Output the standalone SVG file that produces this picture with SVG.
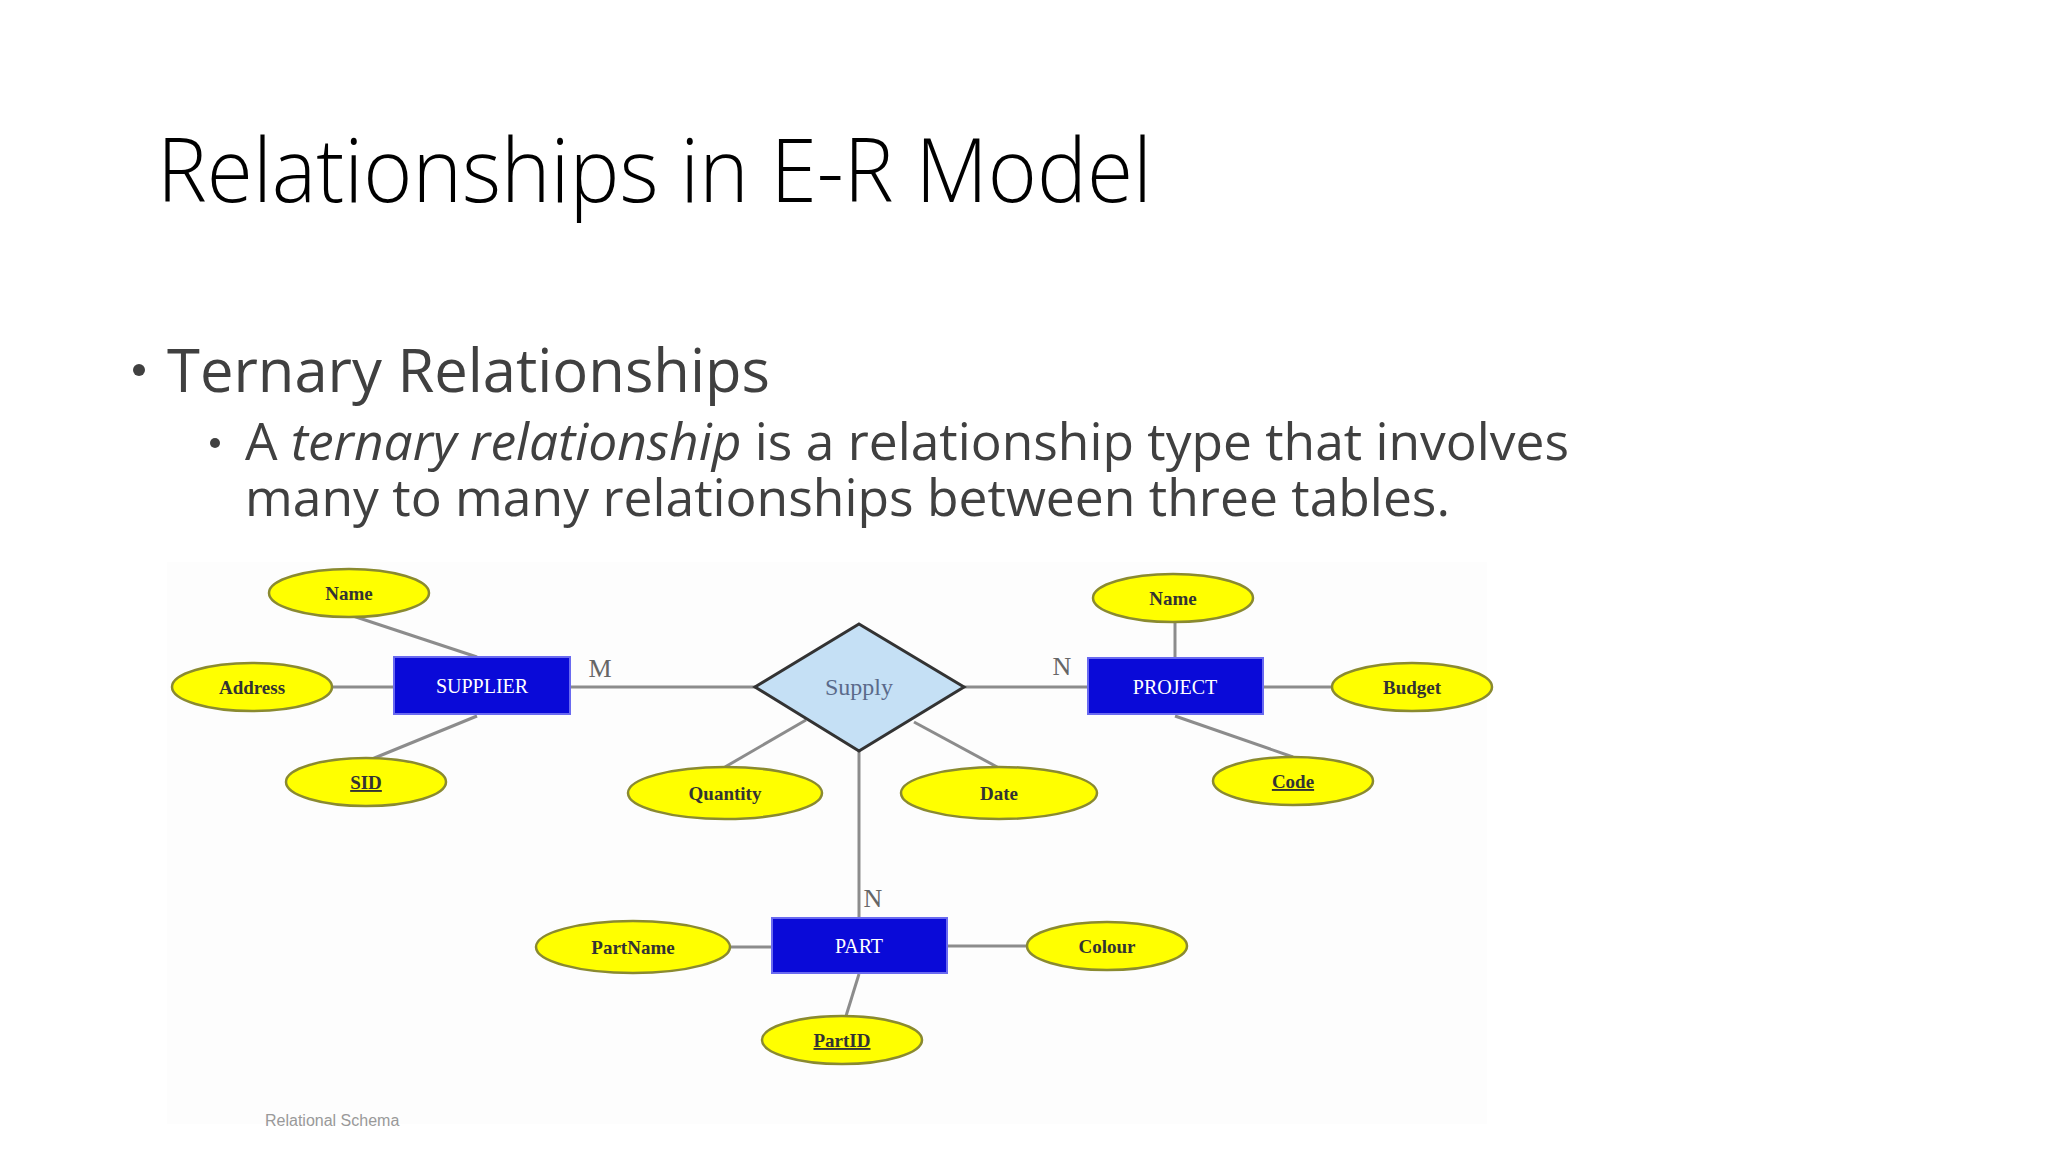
<svg xmlns="http://www.w3.org/2000/svg" width="2048" height="1152" viewBox="0 0 2048 1152">
<style>
.ttl{font-family:"Open Sans",sans-serif;font-weight:300;fill:#000}
.b1{font-family:"Open Sans",sans-serif;fill:#404040}
.att ellipse{fill:#ffff00;stroke:#8a8a30;stroke-width:2.5}
.att text{font-family:"Liberation Serif",serif;font-size:19px;font-weight:bold;fill:#333;text-anchor:middle}
.ent rect{fill:#0a0ad8;stroke:#6a6af0;stroke-width:2}
.ent text{font-family:"Liberation Serif",serif;font-size:20px;fill:#fff;text-anchor:middle}
#connectors line{stroke:#8c8c8c;stroke-width:3}
.card{font-family:"Liberation Serif",serif;font-size:26px;fill:#666;text-anchor:middle}
</style>
<rect width="2048" height="1152" fill="#fff"/>
<text class="ttl" x="157" y="202" font-size="88" textLength="995" lengthAdjust="spacingAndGlyphs">Relationships in E-R Model</text>
<circle cx="139" cy="370" r="6" fill="#404040"/>
<text class="b1" x="167" y="392" font-size="60" textLength="603" lengthAdjust="spacingAndGlyphs">Ternary Relationships</text>
<circle cx="215" cy="443" r="5" fill="#404040"/>
<text class="b1" font-size="52"><tspan x="245" y="460" textLength="1324" lengthAdjust="spacingAndGlyphs">A <tspan font-style="italic">ternary relationship</tspan> is a relationship type that involves</tspan><tspan x="245" y="516" textLength="1205" lengthAdjust="spacingAndGlyphs">many to many relationships between three tables.</tspan></text>
<rect x="167" y="562" width="1320" height="562" fill="#fdfdfd"/>
<g id="connectors">
<line x1="353" y1="616" x2="477" y2="657"/>
<line x1="333" y1="687" x2="394" y2="687"/>
<line x1="372" y1="759" x2="477" y2="716"/>
<line x1="570" y1="687" x2="755" y2="687"/>
<line x1="725" y1="767" x2="806" y2="720"/>
<line x1="999" y1="768" x2="914" y2="722"/>
<line x1="964" y1="687" x2="1088" y2="687"/>
<line x1="1175" y1="623" x2="1175" y2="658"/>
<line x1="1263" y1="687" x2="1332" y2="687"/>
<line x1="1175" y1="716" x2="1293" y2="757"/>
<line x1="859" y1="751" x2="859" y2="918"/>
<line x1="730" y1="947" x2="772" y2="947"/>
<line x1="947" y1="946" x2="1028" y2="946"/>
<line x1="859" y1="974" x2="846" y2="1016"/>
<text class="card" x="600" y="677">M</text>
<text class="card" x="1062" y="675">N</text>
<text class="card" x="873" y="907">N</text>
</g>
<g id="supplier" class="ent"><rect x="394" y="657" width="176" height="57"/><text x="482" y="693">SUPPLIER</text></g>
<g id="project" class="ent"><rect x="1088" y="658" width="175" height="56"/><text x="1175" y="694">PROJECT</text></g>
<g id="part" class="ent"><rect x="772" y="918" width="175" height="55"/><text x="859" y="953">PART</text></g>
<g id="supply"><polygon points="859,624 964,687 859,751 755,687" fill="#c5e0f5" stroke="#333" stroke-width="3"/><text x="859" y="695" font-family="Liberation Serif,serif" font-size="24" fill="#5a6a8a" text-anchor="middle">Supply</text></g>
<g id="s-name" class="att"><ellipse cx="349" cy="593" rx="80" ry="24"/><text x="349" y="600">Name</text></g>
<g id="s-address" class="att"><ellipse cx="252" cy="687" rx="80" ry="24"/><text x="252" y="694">Address</text></g>
<g id="s-sid" class="att"><ellipse cx="366" cy="782" rx="80" ry="24"/><text x="366" y="789" text-decoration="underline">SID</text></g>
<g id="quantity" class="att"><ellipse cx="725" cy="793" rx="97" ry="26"/><text x="725" y="800">Quantity</text></g>
<g id="date" class="att"><ellipse cx="999" cy="793" rx="98" ry="26"/><text x="999" y="800">Date</text></g>
<g id="p-name" class="att"><ellipse cx="1173" cy="598" rx="80" ry="24"/><text x="1173" y="605">Name</text></g>
<g id="budget" class="att"><ellipse cx="1412" cy="687" rx="80" ry="24"/><text x="1412" y="694">Budget</text></g>
<g id="code" class="att"><ellipse cx="1293" cy="781" rx="80" ry="24"/><text x="1293" y="788" text-decoration="underline">Code</text></g>
<g id="partname" class="att"><ellipse cx="633" cy="947" rx="97" ry="26"/><text x="633" y="954">PartName</text></g>
<g id="colour" class="att"><ellipse cx="1107" cy="946" rx="80" ry="24"/><text x="1107" y="953">Colour</text></g>
<g id="partid" class="att"><ellipse cx="842" cy="1040" rx="80" ry="24"/><text x="842" y="1047" text-decoration="underline">PartID</text></g>
<text x="265" y="1126" font-family="Liberation Sans,sans-serif" font-size="16" fill="#999">Relational Schema</text>
</svg>
